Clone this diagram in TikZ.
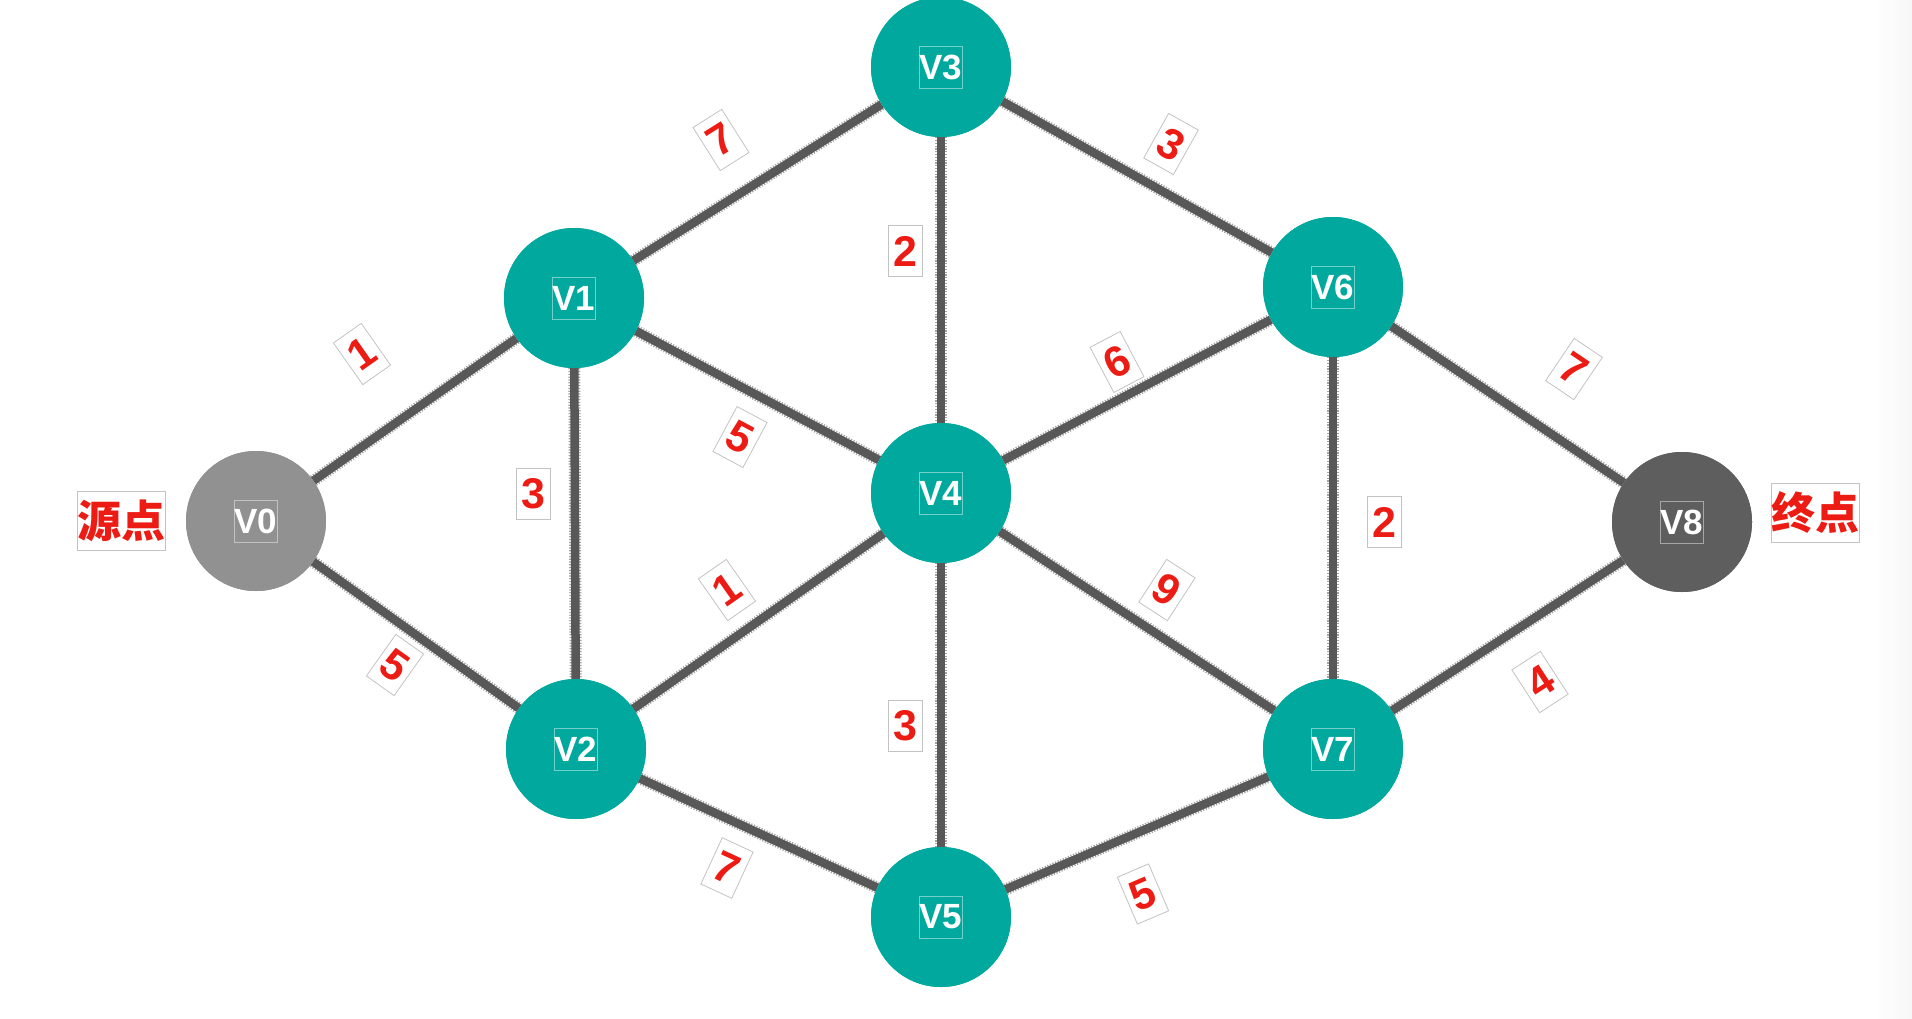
\documentclass[tikz,border=0pt]{standalone}
\usepackage{fontspec}
\setmainfont{Liberation Sans}
\newfontfamily\cjk{Noto Sans CJK SC}
\definecolor{teal0}{RGB}{0,168,157}
\definecolor{grayA}{RGB}{145,145,145}
\definecolor{grayB}{RGB}{94,94,94}
\definecolor{edgec}{RGB}{88,88,88}
\definecolor{redl}{RGB}{236,28,20}
\definecolor{boxc}{RGB}{195,195,195}
\begin{document}
\begin{tikzpicture}[x=1pt,y=-1pt,
  vert/.style={circle,minimum size=140pt,inner sep=0pt,fill=teal0},
  vlab/.style={draw=white,draw opacity=0.45,line width=0.8pt,minimum size=42pt,inner sep=0pt,text=white,font=\fontsize{35}{35}\selectfont\bfseries},
  conn/.style={draw=edgec,line width=8.5pt,
    postaction={draw=edgec,line width=12pt,opacity=0.55,dash pattern=on 1.2pt off 1.6pt}},
  lbl/.style={draw=boxc,line width=0.8pt,fill=white,minimum width=34pt,minimum height=51pt,inner sep=0pt,text=redl,font=\fontsize{43}{43}\selectfont\bfseries},
  tag/.style={draw=boxc,line width=0.8pt,fill=white,minimum width=86pt,minimum height=59pt,inner sep=0pt,text=redl,font=\cjk\fontsize{44}{44}\selectfont\bfseries}
]
\useasboundingbox (0,0) rectangle (1912,1018);
\shade[left color=white,right color=gray!6] (1872,0) rectangle (1912,1018);

% vertices
\node[vert,fill=grayA] (v0) at (256,521) {};
\node[vert] (v1) at (574,298) {};
\node[vert] (v2) at (576,749) {};
\node[vert] (v3) at (941,67) {};
\node[vert] (v4) at (941,493) {};
\node[vert] (v5) at (941,917) {};
\node[vert] (v6) at (1333,287) {};
\node[vert] (v7) at (1333,749) {};
\node[vert,fill=grayB] (v8) at (1682,522) {};

% edges
\draw[conn] (v0) -- (v1);
\draw[conn] (v0) -- (v2);
\draw[conn] (v1) -- (v3);
\draw[conn] (v1) -- (v4);
\draw[conn] (v1) -- (v2);
\draw[conn] (v2) -- (v4);
\draw[conn] (v2) -- (v5);
\draw[conn] (v3) -- (v4);
\draw[conn] (v3) -- (v6);
\draw[conn] (v4) -- (v6);
\draw[conn] (v4) -- (v7);
\draw[conn] (v4) -- (v5);
\draw[conn] (v5) -- (v7);
\draw[conn] (v6) -- (v7);
\draw[conn] (v6) -- (v8);
\draw[conn] (v7) -- (v8);

% redraw vertices on top
\node[vert,fill=grayA] at (v0) {};
\foreach \v in {v1,v2,v3,v4,v5,v6,v7} {\node[vert] at (\v) {};}
\node[vert,fill=grayB] at (v8) {};

% vertex labels
\node[vlab] (t0) at (v0) {V0};
\node[vlab] (t1) at (v1) {V1};
\node[vlab] (t2) at (v2) {V2};
\node[vlab] (t3) at (v3) {V3};
\node[vlab] (t4) at (v4) {V4};
\node[vlab] (t5) at (v5) {V5};
\node[vlab] (t6) at (v6) {V6};
\node[vlab] (t7) at (v7) {V7};
\node[vlab] (t8) at (v8) {V8};

% weights
\node[lbl,rotate=32.3] (w13) at (721,140) {7};
\node[lbl,rotate=-29.2] (w36) at (1171,144) {3};
\node[lbl] (w34) at (905,251) {2};
\node[lbl,rotate=35.1] (w01) at (362,354) {1};
\node[lbl,rotate=27.8] (w46) at (1117,362) {6};
\node[lbl,rotate=-34.0] (w68) at (1574,369) {7};
\node[lbl,rotate=-28.2] (w14) at (740,437) {5};
\node[lbl] (w12) at (533,494) {3};
\node[lbl] (w67) at (1384,522) {2};
\node[lbl,rotate=35.0] (w24) at (727,590) {1};
\node[lbl,rotate=-33.0] (w47) at (1167,590) {9};
\node[lbl,rotate=-35.3] (w02) at (395,665) {5};
\node[lbl,rotate=33.0] (w78) at (1540,682) {4};
\node[lbl] (w45) at (905,726) {3};
\node[lbl,rotate=-24.8] (w25) at (727,868) {7};
\node[lbl,rotate=23.1] (w57) at (1143,894) {5};

% tags
\node[tag] (src) at (121,521) {源点};
\node[tag] (dst) at (1815,513) {终点};
\end{tikzpicture}
\end{document}
